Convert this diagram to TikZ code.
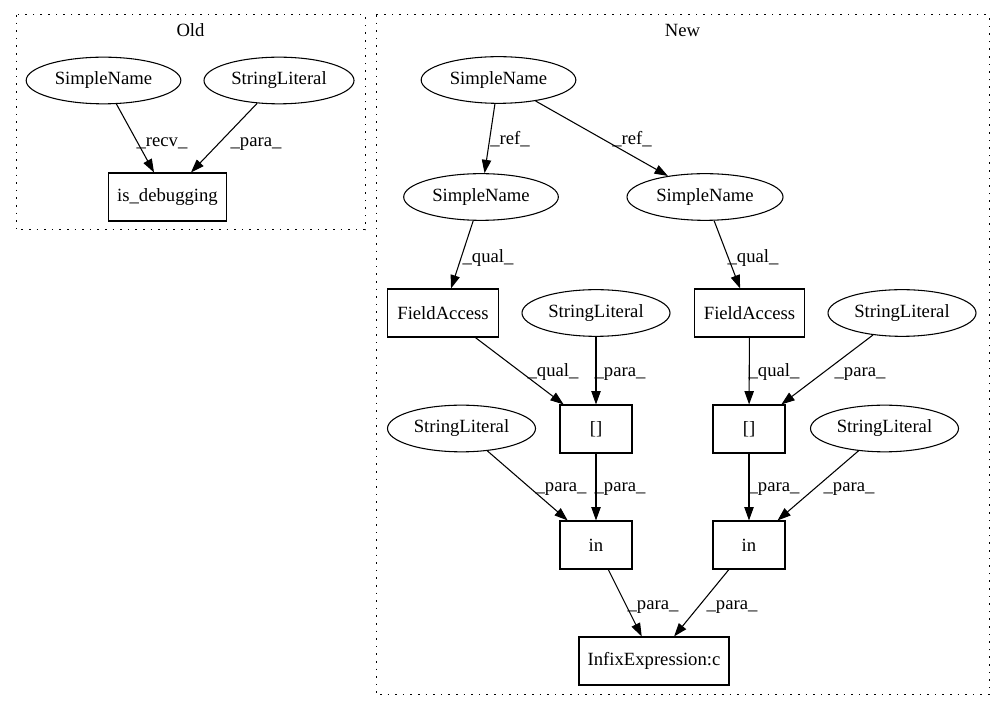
\documentclass[tikz,border=0pt]{standalone}
\usepackage{fontspec}
\setmainfont{Liberation Serif}
\usetikzlibrary{shapes.geometric,arrows.meta}
\begin{document}
\begin{tikzpicture}[x=0.75pt,y=-0.75pt,
  every node/.style={font=\fontsize{14pt}{17pt}\selectfont},
  ell/.style={draw,ellipse,line width=0.8pt,inner sep=0pt,minimum height=35pt},
  box/.style={draw,rectangle,line width=0.8pt,inner sep=0pt,minimum height=36pt},
  conn/.style={line width=0.8pt,-{Triangle[length=10pt,width=7pt]}},
  lbl/.style={anchor=base,inner sep=0pt},
  cluster/.style={draw,line width=0.75pt,dash pattern=on 1.2pt off 4.5pt}]
\useasboundingbox (0,0) rectangle (1004,712);

% clusters
\draw[cluster] (16,15) rectangle (365,230);
\draw[cluster] (376,15) rectangle (989,695);
\node[lbl] (tOld) at (190.5,37) {Old};
\node[lbl] (tNew) at (682.5,37) {New};

% Old
\node[ell,minimum width=116pt] (osn) at (103.5,80.5) {SimpleName};
\node[ell,minimum width=112.5pt] (osl) at (279,80.5) {StringLiteral};
\node[box,minimum width=89pt] (isd) at (167.5,197) {is\_debugging};
\draw[conn] (osn) -- (isd);
\draw[conn] (osl) -- (isd);
\node[lbl] (l1) at (162,147) {\_recv\_};
\node[lbl] (l2) at (256,147) {\_para\_};

% New
\node[ell,minimum width=116pt] (sn0) at (498.5,80) {SimpleName};
\node[ell,minimum width=116pt] (sn1) at (481,197) {SimpleName};
\node[ell,minimum width=117pt] (sn2) at (705,197) {SimpleName};
\node[box,minimum width=83pt] (fa1) at (443,313) {FieldAccess};
\node[ell,minimum width=111pt] (sl1) at (596,313) {StringLiteral};
\node[box,minimum width=83pt] (fa2) at (749.5,313) {FieldAccess};
\node[ell,minimum width=111pt] (sl2) at (902,313) {StringLiteral};
\node[ell,minimum width=111pt] (sl3) at (461.5,428.5) {StringLiteral};
\node[box,minimum width=54pt] (br1) at (596,429) {[]};
\node[box,minimum width=54pt] (br2) at (749,429) {[]};
\node[ell,minimum width=111pt] (sl4) at (884.5,428.5) {StringLiteral};
\node[box,minimum width=54pt] (in1) at (596,545) {in};
\node[box,minimum width=54pt] (in2) at (749,545) {in};
\node[box,minimum width=112.5pt] (inf) at (654,661) {InfixExpression:c};

\draw[conn] (sn0) -- (sn1);
\draw[conn] (sn0) -- (sn2);
\draw[conn] (sn1) -- (fa1);
\draw[conn] (sn2) -- (fa2);
\draw[conn] (fa1) -- (br1);
\draw[conn] (sl1) -- (br1);
\draw[conn] (fa2) -- (br2);
\draw[conn] (sl2) -- (br2);
\draw[conn] (sl3) -- (in1);
\draw[conn] (br1) -- (in1);
\draw[conn] (br2) -- (in2);
\draw[conn] (sl4) -- (in2);
\draw[conn] (in1) -- (inf);
\draw[conn] (in2) -- (inf);

\node[lbl] (l3) at (510,145) {\_ref\_};
\node[lbl] (l4) at (632,145) {\_ref\_};
\node[lbl] (l5) at (488,263) {\_qual\_};
\node[lbl] (l6) at (753,263) {\_qual\_};
\node[lbl] (l7) at (553,377) {\_qual\_};
\node[lbl] (l8) at (620,377) {\_para\_};
\node[lbl] (l9) at (774,377) {\_qual\_};
\node[lbl] (l10) at (860,377) {\_para\_};
\node[lbl] (l11) at (561,492) {\_para\_};
\node[lbl] (l12) at (620,492) {\_para\_};
\node[lbl] (l13) at (774,492) {\_para\_};
\node[lbl] (l14) at (849,492) {\_para\_};
\node[lbl] (l15) at (653,610) {\_para\_};
\node[lbl] (l16) at (732,610) {\_para\_};
\end{tikzpicture}
\end{document}
